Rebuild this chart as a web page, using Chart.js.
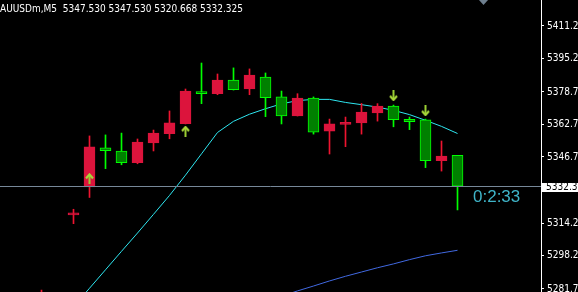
<!DOCTYPE html>
<html>
<head>
<meta charset="utf-8">
<script src="https://cdn.jsdelivr.net/npm/chart.js@4.4.1/dist/chart.umd.min.js"></script>
<style>
  html, body { margin: 0; padding: 0; background: #000; }
  canvas { display: block; }
</style>
</head>
<body>
<canvas id="chart" width="578" height="292"></canvas>
<script>
// M5 bars, oldest first (first two sit below the visible range)
const openP  = [5272.0, 5270.0, 5318.2, 5332.0, 5351.2, 5349.7, 5343.9, 5353.6, 5358.2, 5363.1,
                5378.9, 5377.9, 5384.6, 5380.2, 5386.1, 5376.3, 5366.9, 5375.8, 5359.5, 5362.8,
                5363.5, 5368.4, 5371.8, 5365.3, 5365.0, 5344.9, 5347.53];
const highP  = [5281.2, 5277.0, 5321.0, 5357.1, 5357.6, 5358.5, 5355.6, 5360.0, 5369.4, 5380.2,
                5393.0, 5387.6, 5390.6, 5390.1, 5388.1, 5379.2, 5377.9, 5376.3, 5365.4, 5366.4,
                5373.1, 5373.0, 5372.3, 5366.4, 5365.4, 5354.6, 5347.53];
const lowP   = [5266.0, 5262.0, 5313.9, 5326.8, 5341.0, 5342.9, 5343.4, 5349.7, 5355.7, 5363.0,
                5373.0, 5377.4, 5379.7, 5377.4, 5366.6, 5363.0, 5366.9, 5358.0, 5348.2, 5351.8,
                5358.0, 5364.4, 5361.6, 5360.2, 5341.5, 5339.8, 5320.668];
const closeP = [5279.5, 5275.0, 5319.2, 5351.7, 5349.8, 5343.9, 5354.1, 5358.5, 5363.5, 5379.2,
                5377.9, 5384.6, 5379.9, 5387.1, 5375.9, 5366.9, 5375.8, 5359.0, 5363.0, 5363.8,
                5368.9, 5371.8, 5365.1, 5364.1, 5344.9, 5347.2, 5332.325];

// moving averages
const maFast = [5255.2, 5264.0, 5273.1, 5282.1, 5291.2, 5300.3, 5309.3, 5318.5, 5327.8, 5337.8,
                5348.3, 5358.8, 5364.3, 5367.8, 5370.5, 5372.9, 5374.5, 5375.1, 5375.1, 5373.6,
                5372.5, 5371.3, 5369.7, 5367.6, 5364.8, 5361.8, 5358.3];
const maSlow = [null, null, null, null, null, null, null, null, null, null,
                null, null, null, null, null, 5278.1, 5280.8, 5283.2, 5285.7, 5288.0,
                5290.1, 5292.2, 5294.1, 5296.2, 5298.1, 5299.5, 5300.8];

// signal arrows
const upArrowIdx = [3, 9];
const upArrowP = [5336.2, 5359.5];
const downArrowIdx = [22, 24];
const downArrowP = [5376.8, 5369.4];

const priceTicks = [5411.23, 5395.23, 5378.74, 5362.73, 5346.73, 5330.73, 5314.23, 5298.23, 5281.74];
const headerText = 'AUUSDm,M5  5347.530 5347.530 5320.668 5332.325';
const bidPrice = 5332.325;
const timerText = '0:2:33';

const smallFont = "'Liberation Sans Narrow', 'DejaVu Sans Condensed', 'Liberation Sans', sans-serif";

const upFill = '#dc143c', upWick = '#ee1430';
const dnFill = '#008000', dnLine = '#00ff00';

const isUp = openP.map((o, i) => closeP[i] > o);

function makeArrow(up) {
  const c = document.createElement('canvas');
  c.width = 9; c.height = 11;
  const g = c.getContext('2d');
  if (!up) { g.translate(0, 11); g.scale(1, -1); }
  g.fillStyle = '#9acd32';
  g.fillRect(3.5, 3, 2, 8);
  g.strokeStyle = '#a8d83a';
  g.lineWidth = 2.2;
  g.beginPath();
  g.moveTo(1, 5.5); g.lineTo(4.5, 1.5); g.lineTo(8, 5.5);
  g.stroke();
  return c;
}

const overlay = {
  id: 'overlay',
  afterDatasetsDraw(chart) {
    const {ctx, chartArea, scales: {y}} = chart;
    const py = Math.round(y.getPixelForValue(bidPrice)) + 0.5;
    ctx.save();
    ctx.strokeStyle = '#778899';
    ctx.lineWidth = 1;
    ctx.beginPath();
    ctx.moveTo(chartArea.left, py);
    ctx.lineTo(chartArea.right, py);
    ctx.stroke();
    ctx.restore();
  },
  afterDraw(chart) {
    const {ctx, chartArea, scales: {y}} = chart;
    const py = Math.round(y.getPixelForValue(bidPrice));
    ctx.save();
    // bid label on the price axis
    ctx.fillStyle = '#fff';
    ctx.fillRect(chartArea.right + 1, py - 3, 40, 9);
    ctx.fillStyle = '#000';
    ctx.font = '10px ' + smallFont;
    ctx.textBaseline = 'middle';
    ctx.textAlign = 'left';
    ctx.fillText(bidPrice.toFixed(2), chartArea.right + 5, py + 1.5);
    // countdown
    ctx.fillStyle = '#3fb4c8';
    ctx.font = "17px 'Liberation Sans', sans-serif";
    ctx.textBaseline = 'alphabetic';
    ctx.fillText(timerText, 473, py + 16);
    // header
    ctx.fillStyle = '#fff';
    ctx.font = '10px ' + smallFont;
    ctx.fillText(headerText, 0, 12);
    // shift marker
    ctx.fillStyle = '#6e7f8e';
    ctx.beginPath();
    ctx.moveTo(479, 0); ctx.lineTo(488, 0); ctx.lineTo(483.5, 5);
    ctx.closePath();
    ctx.fill();
    ctx.restore();
  }
};

const pts = arr => arr.map((v, i) => ({x: i, y: v}));

new Chart(document.getElementById('chart'), {
  type: 'bar',
  data: {
    datasets: [
      {
        type: 'line', data: pts(maFast), borderColor: '#2ee6f0', borderWidth: 1,
        pointRadius: 0, tension: 0, order: 4
      },
      {
        type: 'line', data: pts(maSlow), borderColor: '#4169e1', borderWidth: 1,
        pointRadius: 0, tension: 0, order: 4
      },
      {
        data: highP.map((h, i) => ({x: i, y: [lowP[i], h]})),
        backgroundColor: isUp.map(u => u ? upWick : dnLine),
        barThickness: 1, grouped: false, order: 3
      },
      {
        data: openP.map((o, i) => ({x: i, y: [o, closeP[i]]})),
        backgroundColor: isUp.map(u => u ? upFill : dnFill),
        borderColor: isUp.map(u => u ? upFill : dnLine),
        borderWidth: 1, borderSkipped: false,
        barThickness: 11, grouped: false, order: 2
      },
      {
        type: 'scatter', data: upArrowIdx.map((x, i) => ({x, y: upArrowP[i]})),
        pointStyle: makeArrow(true), order: 1
      },
      {
        type: 'scatter', data: downArrowIdx.map((x, i) => ({x, y: downArrowP[i]})),
        pointStyle: makeArrow(false), order: 1
      }
    ]
  },
  options: {
    responsive: false,
    devicePixelRatio: 1,
    animation: false,
    events: [],
    layout: { padding: 0, autoPadding: false },
    plugins: { legend: { display: false }, tooltip: { enabled: false } },
    scales: {
      x: {
        type: 'linear', display: false, offset: false,
        min: -2.59375, max: 31.21875
      },
      y: {
        position: 'right',
        min: 5280.26, max: 5424.03, beginAtZero: false,
        afterBuildTicks: s => { s.ticks = priceTicks.map(v => ({value: v})); },
        afterFit: s => { s.width = 37; s.paddingTop = 0; s.paddingBottom = 0; },
        ticks: {
          color: '#fff', padding: 3, autoSkip: false,
          font: { family: smallFont, size: 10 },
          callback: v => v.toFixed(2)
        },
        grid: { drawOnChartArea: false, drawTicks: true, tickLength: 3, color: '#fff' },
        border: { display: true, color: '#fff' }
      }
    }
  },
  plugins: [overlay]
});
</script>
</body>
</html>
